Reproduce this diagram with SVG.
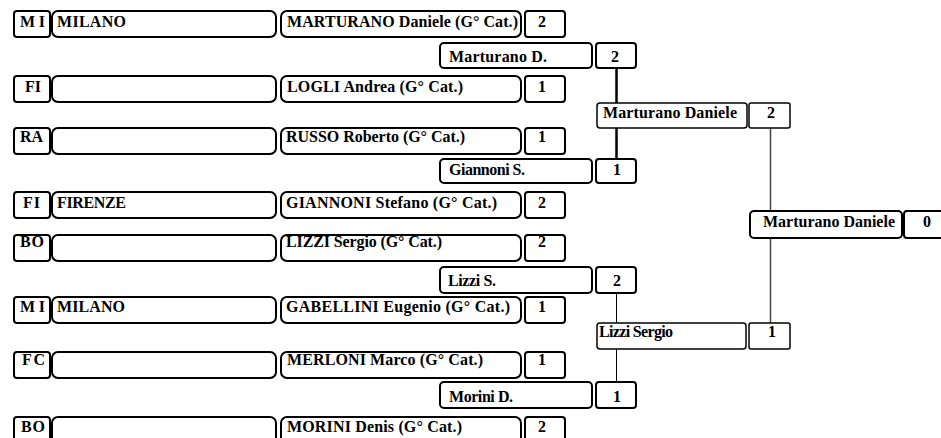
<svg xmlns="http://www.w3.org/2000/svg" width="941" height="438" viewBox="0 0 941 438" font-family="'Liberation Serif', 'Times New Roman', serif">
<style>
.b{fill:#fff;stroke:#000;stroke-width:2}
text{font-family:'Liberation Serif','Times New Roman',serif;font-weight:700;font-size:16px;fill:#000}
.c{text-anchor:middle}
.thin{stroke-width:1.5}
</style>
<rect width="941" height="438" fill="#fff"/>
<g id="connectors" fill="none">
<path d="M616.5 68V103M616.5 128V159" stroke="#000" stroke-width="2.5"/>
<path d="M616.5 293V323M616.5 349V382" stroke="#000" stroke-width="1"/>
<path d="M770.5 128V323" stroke="#444" stroke-width="1.5"/>
</g>
<g id="r1-1">
<rect class="b" x="14" y="11" width="36" height="26" rx="3"/><text x="20" y="27" textLength="25" lengthAdjust="spacing">MI</text>
<rect class="b" x="52" y="11" width="224" height="26" rx="6"/><text x="57" y="27" textLength="69" lengthAdjust="spacing">MILANO</text>
<rect class="b" x="281" y="11" width="240" height="26" rx="6"/><text x="287" y="27" textLength="231" lengthAdjust="spacing">MARTURANO Daniele (G° Cat.)</text>
<rect class="b" x="525" y="11" width="40" height="26" rx="3"/><text class="c" x="542" y="27">2</text>
</g>
<g id="r1-2">
<rect class="b" x="14" y="76" width="36" height="26" rx="3"/><text x="25" y="92">FI</text>
<rect class="b" x="52" y="76" width="224" height="26" rx="6"/>
<rect class="b" x="281" y="76" width="240" height="26" rx="6"/><text x="287" y="92" textLength="176" lengthAdjust="spacing">LOGLI Andrea (G° Cat.)</text>
<rect class="b" x="525" y="76" width="40" height="26" rx="3"/><text class="c" x="542" y="92">1</text>
</g>
<g id="r1-3">
<rect class="b" x="14" y="128" width="36" height="26" rx="3"/><text x="20" y="142" textLength="23" lengthAdjust="spacing">RA</text>
<rect class="b" x="52" y="128" width="224" height="26" rx="6"/>
<rect class="b" x="281" y="128" width="240" height="26" rx="6"/><text x="286" y="142" textLength="179" lengthAdjust="spacing">RUSSO Roberto (G° Cat.)</text>
<rect class="b" x="525" y="128" width="40" height="26" rx="3"/><text class="c" x="542" y="142">1</text>
</g>
<g id="r1-4">
<rect class="b" x="14" y="192" width="36" height="26" rx="3"/><text x="23" y="208" textLength="17" lengthAdjust="spacing">FI</text>
<rect class="b" x="52" y="192" width="224" height="26" rx="6"/><text x="57" y="208" textLength="69" lengthAdjust="spacing">FIRENZE</text>
<rect class="b" x="281" y="192" width="240" height="26" rx="6"/><text x="286" y="208" textLength="211" lengthAdjust="spacing">GIANNONI Stefano (G° Cat.)</text>
<rect class="b" x="525" y="192" width="40" height="26" rx="3"/><text class="c" x="542" y="208">2</text>
</g>
<g id="r1-5">
<rect class="b" x="14" y="235" width="36" height="26" rx="3"/><text x="20" y="247" textLength="24" lengthAdjust="spacing">BO</text>
<rect class="b" x="52" y="235" width="224" height="26" rx="6"/>
<rect class="b" x="281" y="235" width="240" height="26" rx="6"/><text x="286" y="247" textLength="156" lengthAdjust="spacing">LIZZI Sergio (G° Cat.)</text>
<rect class="b" x="525" y="235" width="40" height="26" rx="3"/><text class="c" x="542" y="247">2</text>
</g>
<g id="r1-6">
<rect class="b" x="14" y="297" width="36" height="26" rx="3"/><text x="20" y="312" textLength="25" lengthAdjust="spacing">MI</text>
<rect class="b" x="52" y="297" width="224" height="26" rx="6"/><text x="57" y="312" textLength="68" lengthAdjust="spacing">MILANO</text>
<rect class="b" x="281" y="297" width="240" height="26" rx="6"/><text x="286" y="312" textLength="224" lengthAdjust="spacing">GABELLINI Eugenio (G° Cat.)</text>
<rect class="b" x="525" y="297" width="40" height="26" rx="3"/><text class="c" x="542" y="312">1</text>
</g>
<g id="r1-7">
<rect class="b" x="14" y="352" width="36" height="26" rx="3"/><text x="22" y="365" textLength="23" lengthAdjust="spacing">FC</text>
<rect class="b" x="52" y="352" width="224" height="26" rx="6"/>
<rect class="b" x="281" y="352" width="240" height="26" rx="6"/><text x="287" y="365" textLength="196" lengthAdjust="spacing">MERLONI Marco (G° Cat.)</text>
<rect class="b" x="525" y="352" width="40" height="26" rx="3"/><text class="c" x="542" y="365">1</text>
</g>
<g id="r1-8">
<rect class="b" x="14" y="417" width="36" height="26" rx="3"/><text x="21" y="432" textLength="24" lengthAdjust="spacing">BO</text>
<rect class="b" x="52" y="417" width="224" height="26" rx="6"/>
<rect class="b" x="281" y="417" width="240" height="26" rx="6"/><text x="287" y="432" textLength="175" lengthAdjust="spacing">MORINI Denis (G° Cat.)</text>
<rect class="b" x="525" y="417" width="40" height="26" rx="3"/><text class="c" x="542" y="432">2</text>
</g>
<g id="r2-1">
<rect class="b" x="440" y="43" width="152" height="25" rx="4"/><text x="449" y="62" textLength="98" lengthAdjust="spacing">Marturano D.</text>
<rect class="b" x="596" y="43" width="40" height="25" rx="3"/><text class="c" x="615" y="62">2</text>
</g>
<g id="r2-2">
<rect class="b" x="440" y="159" width="152" height="24" rx="4"/><text x="449" y="175" textLength="76" lengthAdjust="spacing">Giannoni S.</text>
<rect class="b" x="596" y="159" width="40" height="24" rx="3"/><text class="c" x="617" y="175">1</text>
</g>
<g id="r2-3">
<rect class="b" x="440" y="267" width="152" height="26" rx="4"/><text x="448" y="286" textLength="48" lengthAdjust="spacing">Lizzi S.</text>
<rect class="b" x="596" y="267" width="40" height="26" rx="3"/><text class="c" x="617" y="286">2</text>
</g>
<g id="r2-4">
<rect class="b" x="440" y="382" width="152" height="26" rx="4"/><text x="449" y="402" textLength="64" lengthAdjust="spacing">Morini D.</text>
<rect class="b" x="596" y="382" width="40" height="26" rx="3"/><text class="c" x="617" y="402">1</text>
</g>
<g id="r3-1">
<rect class="b thin" x="597" y="103" width="150" height="25" rx="3"/><text x="603" y="118" textLength="134" lengthAdjust="spacing">Marturano Daniele</text>
<rect class="b thin" x="749" y="103" width="41" height="25" rx="2"/><text class="c" x="771" y="118">2</text>
</g>
<g id="r3-2">
<rect class="b thin" x="597" y="323" width="149" height="26" rx="3"/><text x="599" y="337" textLength="74" lengthAdjust="spacing">Lizzi Sergio</text>
<rect class="b thin" x="749" y="323" width="41" height="26" rx="2"/><text class="c" x="772" y="337">1</text>
</g>
<g id="final">
<rect class="b" x="750" y="211" width="152" height="27" rx="4"/><text x="763" y="227" textLength="132" lengthAdjust="spacing">Marturano Daniele</text>
<rect class="b" x="904" y="211" width="45" height="27" rx="3"/><text class="c" x="927" y="227">0</text>
</g>
</svg>
